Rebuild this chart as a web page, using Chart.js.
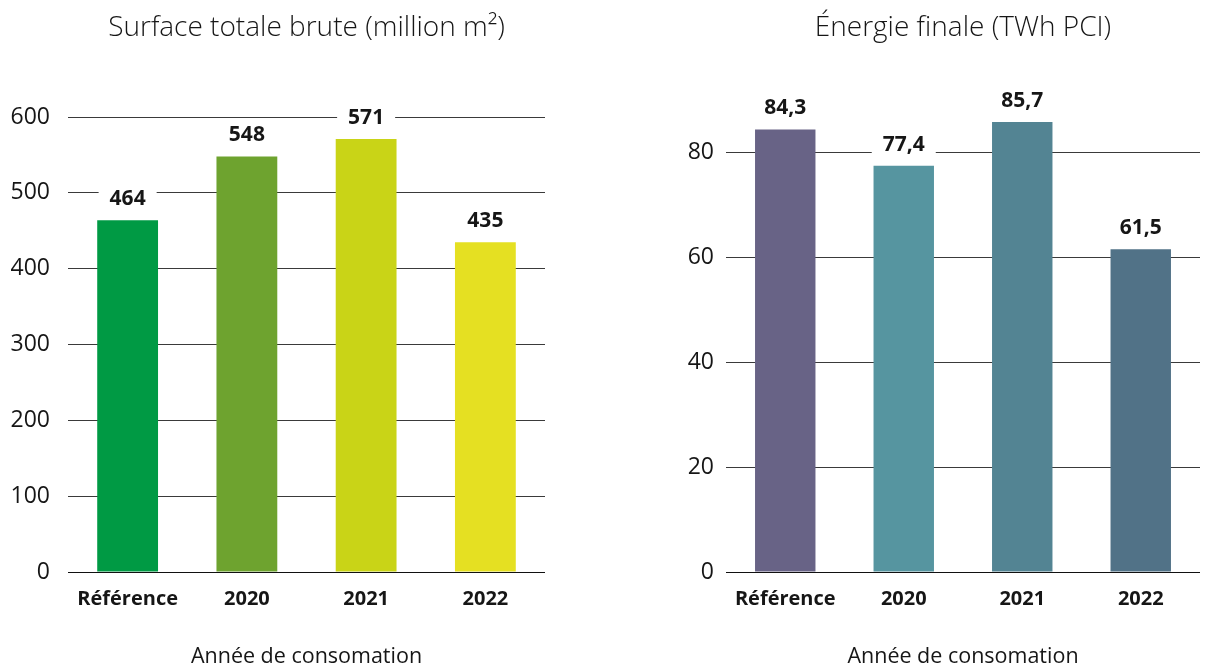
<!DOCTYPE html>
<html>

<head>
    <title>Surface et énergie</title>
    <script src="https://cdn.jsdelivr.net/npm/chart.js"></script>
    <style>
        body { margin: 0; background: #fff; }
        .panel { position: absolute; top: 0; width: 608px; height: 668px; }
    </style>
</head>

<body>
    <div class="panel" style="left:0"><canvas id="surfaceChart" width="608" height="668"></canvas></div>
    <div class="panel" style="left:608px"><canvas id="energieChart" width="608" height="668"></canvas></div>

    <script>
        // Données
        const categories = ['Référence', '2020', '2021', '2022'];
        const surfaceValues = [464, 548, 571, 435];
        const energieValues = [84.3, 77.4, 85.7, 61.5];
        const surfaceColors = ['#009a44', '#6ea32f', '#c9d417', '#e5e022'];
        const energieColors = ['#686386', '#5695a0', '#538493', '#517287'];

        const FONT = '"Open Sans", "Noto Sans", sans-serif';
        const INK = '#161616';

        // étiquettes de valeur sur fond blanc au-dessus des barres
        const valueLabels = {
            id: 'valueLabels',
            afterDatasetsDraw(chart) {
                const ctx = chart.ctx;
                const meta = chart.getDatasetMeta(0);
                const values = chart.data.datasets[0].data;
                ctx.save();
                ctx.font = 'bold 21px ' + FONT;
                ctx.textAlign = 'center';
                ctx.textBaseline = 'middle';
                meta.data.forEach((bar, i) => {
                    const txt = String(values[i]).replace('.', ',');
                    const w = ctx.measureText(txt).width + 22;
                    const y = bar.y - 21;
                    ctx.fillStyle = '#fff';
                    ctx.fillRect(bar.x - w / 2, y - 13, w, 26);
                    ctx.fillStyle = INK;
                    ctx.fillText(txt, bar.x, y);
                });
                ctx.restore();
            }
        };

        function makeChart(id, title, values, colors, yOpts, leftWidth, tickPad, padRight, titleBottom) {
            return new Chart(document.getElementById(id), {
                type: 'bar',
                data: {
                    labels: categories,
                    datasets: [{
                        data: values,
                        backgroundColor: colors,
                        barPercentage: 0.51,
                        categoryPercentage: 1
                    }]
                },
                options: {
                    responsive: false,
                    animation: false,
                    layout: { padding: { left: 0, right: padRight, top: 0, bottom: 0 } },
                    plugins: {
                        legend: { display: false },
                        tooltip: { enabled: false },
                        title: {
                            display: true,
                            text: title,
                            fullSize: false,
                            color: INK,
                            font: { family: FONT, size: 28, weight: '300' },
                            padding: { top: 11, bottom: titleBottom }
                        }
                    },
                    scales: {
                        x: {
                            grid: { display: false },
                            border: { display: false },
                            ticks: { color: INK, padding: 7, font: { family: FONT, size: 20, weight: 'bold' } },
                            title: {
                                display: true,
                                text: 'Année de consomation',
                                color: INK,
                                font: { family: FONT, size: 21.5, lineHeight: 1 },
                                padding: { top: 0, bottom: 0 }
                            },
                            afterFit: s => { s.height = 96; }
                        },
                        y: {
                            beginAtZero: true,
                            min: 0,
                            max: yOpts.max,
                            border: { display: false },
                            grid: {
                                drawTicks: false,
                                color: c => c.tick && c.tick.value === 0 ? '#111' : '#3a3a3a',
                                lineWidth: 1
                            },
                            ticks: { color: INK, padding: tickPad, stepSize: yOpts.step, font: { family: FONT, size: 23 } },
                            afterBuildTicks: s => { s.ticks = s.ticks.filter(t => t.value % yOpts.step === 0); },
                            afterFit: s => { s.width = leftWidth; }
                        }
                    }
                },
                plugins: [valueLabels]
            });
        }

        makeChart('surfaceChart', 'Surface totale brute (million m²)', surfaceValues, surfaceColors,
            { max: 600, step: 100 }, 68, 18, 63, 72.4);

        makeChart('energieChart', 'Énergie finale (TWh PCI)', energieValues, energieColors,
            { max: 90, step: 20 }, 118, 12, 16, 54.9);
    </script>
</body>

</html>
